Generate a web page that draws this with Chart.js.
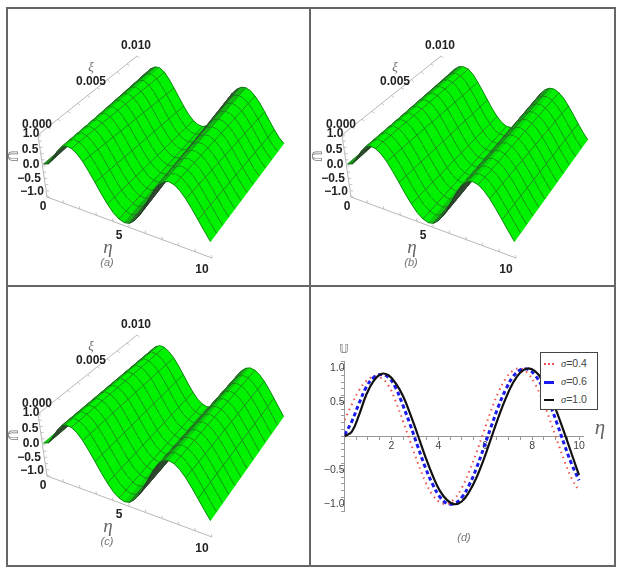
<!DOCTYPE html>
<html>
<head>
<meta charset="utf-8">
<script src="https://cdn.jsdelivr.net/npm/chart.js@4/dist/chart.umd.min.js"></script>
<style>
    html, body { margin: 0; background: #fff; }
    body { width: 622px; height: 572px; position: relative; overflow: hidden; font-family: "Liberation Sans", sans-serif; filter: blur(0.4px); }
    canvas { position: absolute; }
    .rule { position: absolute; background: #666; }
    .txt { position: absolute; transform: translate(-50%, -50%); white-space: nowrap; z-index: 3; }
    .tick3d { font: bold 12px "Liberation Sans", sans-serif; color: #222; }
    .name { font: italic 19px "Liberation Serif", serif; color: #666; }
    .small { font: italic 11px "Liberation Serif", serif; color: #666; }
    .cap { font: italic 11px "Liberation Sans", sans-serif; color: #777; }
    .dbl { font: 14px "DejaVu Sans", sans-serif; color: #777; }
    #legend { position: absolute; left: 540px; top: 352px; width: 56px; height: 56px; background: #fff; border: 1px solid #444; z-index: 4; font: 10.5px "Liberation Sans", sans-serif; color: #444; }
    #legend div { position: absolute; left: 3px; height: 14px; line-height: 14px; white-space: nowrap; }
    #legend span { display: inline-block; width: 10px; margin-right: 7px; vertical-align: middle; }
    #legend i { font-family: "Liberation Serif", serif; }
</style>
</head>
<body>
<div class="rule" style="left:6px;top:7px;width:610px;height:2px"></div>
<div class="rule" style="left:6px;top:285px;width:610px;height:2px"></div>
<div class="rule" style="left:6px;top:565px;width:610px;height:2px"></div>
<div class="rule" style="left:6px;top:7px;width:2px;height:560px"></div>
<div class="rule" style="left:309px;top:7px;width:2px;height:560px"></div>
<div class="rule" style="left:614px;top:7px;width:2px;height:560px"></div>

<canvas id="surfaceA" width="292" height="277" style="left:8px;top:8px"></canvas>
<canvas id="surfaceB" width="292" height="277" style="left:312px;top:8px"></canvas>
<canvas id="surfaceC" width="292" height="277" style="left:8px;top:287px"></canvas>
<canvas id="linesD" width="302" height="277" style="left:312px;top:288px"></canvas>

<div id="legend">
    <div style="top:3px"><span style="border-top:2px dotted #f05050"></span><i>σ</i>=0.4</div>
    <div style="top:21px"><span style="border-top:3px dashed #1a1aee"></span><i>σ</i>=0.6</div>
    <div style="top:39px"><span style="border-top:2.5px solid #111"></span><i>σ</i>=1.0</div>
</div>

<script>
const etaValues = [0, 0.3125, 0.625, 0.9375, 1.25, 1.5625, 1.875, 2.1875, 2.5, 2.8125, 3.125, 3.4375, 3.75, 4.0625, 4.375, 4.6875, 5, 5.3125, 5.625, 5.9375, 6.25, 6.5625, 6.875, 7.1875, 7.5, 7.8125, 8.125, 8.4375, 8.75, 9.0625, 9.375, 9.6875, 10];

// profile along the near edge of the surfaces
const uAtXiZero = [0, 0.07, 0.31, 0.6, 0.82, 0.92, 0.9, 0.79, 0.59, 0.32, 0.02, -0.29, -0.57, -0.8, -0.94, -1, -0.96, -0.82, -0.61, -0.34, -0.03, 0.28, 0.56, 0.79, 0.94, 1, 0.96, 0.83, 0.62, 0.35, 0.05, -0.26, -0.55];

// curves of panel (d)
const uSigma04 = [0.24, 0.47, 0.68, 0.82, 0.88, 0.86, 0.75, 0.51, 0.22, -0.09, -0.39, -0.66, -0.86, -0.97, -1, -0.92, -0.76, -0.52, -0.24, 0.07, 0.38, 0.65, 0.85, 0.97, 1, 0.93, 0.77, 0.54, 0.25, -0.06, -0.36, -0.62, -0.8];
const uSigma06 = [0.02, 0.22, 0.49, 0.73, 0.87, 0.91, 0.87, 0.71, 0.45, 0.16, -0.15, -0.45, -0.7, -0.89, -0.99, -0.99, -0.9, -0.72, -0.47, -0.17, 0.14, 0.44, 0.69, 0.88, 0.98, 0.99, 0.9, 0.73, 0.48, 0.19, -0.12, -0.41, -0.65];
const uSigma10 = [0, 0.07, 0.32, 0.62, 0.82, 0.92, 0.9, 0.78, 0.59, 0.32, 0.02, -0.29, -0.57, -0.8, -0.94, -1, -0.96, -0.82, -0.61, -0.34, -0.03, 0.28, 0.56, 0.79, 0.94, 1, 0.96, 0.83, 0.62, 0.35, 0.05, -0.26, -0.57];

// far edge (xi = 0.010) of surface (a)
const uFarEdgeA = [0.05, 0.3, 0.55, 0.74, 0.86, 0.87, 0.75, 0.51, 0.22, -0.09, -0.39, -0.66, -0.86, -0.97, -1, -0.92, -0.76, -0.52, -0.24, 0.07, 0.38, 0.65, 0.85, 0.97, 1, 0.93, 0.77, 0.54, 0.25, -0.06, -0.36, -0.62, -0.8];

const surfaceEtaTicks = [0, 1, 2, 3, 4, 5, 6, 7, 8, 9, 10];
const surfaceXiTicks = [0, 0.001, 0.002, 0.003, 0.004, 0.005, 0.006, 0.007, 0.008, 0.009, 0.01];
const surfaceUTicks = [-1, -0.8, -0.6, -0.4, -0.2, 0, 0.2, 0.4, 0.6, 0.8, 1];
const meshEvery = 2;     // one eta mesh line every two strips
const meshRows = 12;

function label(text, x, y, cls, extra) {
    let el = document.createElement("div");
    el.className = "txt " + cls;
    el.innerHTML = text;
    el.style.left = x + "px";
    el.style.top = y + "px";
    if (extra) el.style.cssText += extra;
    document.body.appendChild(el);
}

// oblique view of the box: near edge and far edge of the surface
function nearEdge(eta, u) {
    return { x: 47 + 16.5 * eta - (u + 1) * 3.5, y: 194 + 6.1 * eta - (u + 1) * 30 };
}
function farEdge(eta, u) {
    return { x: 137 + 14.5 * eta + (1 - u), y: 58.5 + 3.9 * eta + (1 - u) * 25.5 };
}
function along(a, b, f) {
    return { x: a.x + (b.x - a.x) * f, y: a.y + (b.y - a.y) * f };
}

function shade(slope) {
    if (slope <= 0) return "rgb(0,242,0)";
    let t = Math.pow(Math.min(1, slope / 0.75), 1.2);
    return `rgb(${Math.round(50 * t)},${Math.round(236 - 166 * t)},${Math.round(50 * t)})`;
}

function axisDatasets() {
    let bottomL = { x: 47, y: 197 }, bottomR = { x: 212, y: 258 };
    let topL = { x: 38, y: 135 }, topFar = { x: 137, y: 56 };
    let pts = [topFar, topL, bottomL, bottomR];
    let ticks = [];
    surfaceEtaTicks.forEach(t => {
        let p = along(bottomL, bottomR, t / 10);
        ticks.push(p, { x: p.x - 0.7, y: p.y - 3 }, { x: null, y: null });
    });
    surfaceXiTicks.forEach(t => {
        let p = along(topL, topFar, t / 0.01);
        ticks.push(p, { x: p.x + 2.5, y: p.y + 2 }, { x: null, y: null });
    });
    surfaceUTicks.forEach(t => {
        let p = along(bottomL, topL, (t + 1) / 2);
        ticks.push(p, { x: p.x + 3, y: p.y }, { x: null, y: null });
    });
    return [
        { data: pts, borderColor: "#b8b8b8", borderWidth: 1, showLine: true, pointRadius: 0 },
        { data: ticks, borderColor: "#b8b8b8", borderWidth: 0.8, showLine: true, pointRadius: 0 }
    ];
}

function surfaceDatasets(uFar) {
    let sets = axisDatasets();
    for (let i = 0; i < etaValues.length - 1; i++) {
        let a0 = nearEdge(etaValues[i], uAtXiZero[i]);
        let a1 = nearEdge(etaValues[i + 1], uAtXiZero[i + 1]);
        let b0 = farEdge(etaValues[i], uFar[i]);
        let b1 = farEdge(etaValues[i + 1], uFar[i + 1]);
        let dEta = etaValues[i + 1] - etaValues[i];
        let slope = ((uAtXiZero[i + 1] - uAtXiZero[i]) + (uFar[i + 1] - uFar[i])) / 2 / dEta;
        let col = shade(slope);
        sets.push({
            data: [a0, b0, b1, a1, a0],
            showLine: true, pointRadius: 0,
            fill: "shape", backgroundColor: col,
            borderColor: col, borderWidth: 0.8
        });

        // mesh lines follow the straight rulings of this strip
        let mesh = [];
        for (let j = 1; j < meshRows; j++) {
            mesh.push(along(a0, b0, j / meshRows), along(a1, b1, j / meshRows), { x: null, y: null });
        }
        if (i % meshEvery === 0 && i > 0) mesh.push(a0, b0, { x: null, y: null });
        sets.push({ data: mesh, showLine: true, pointRadius: 0, borderColor: "rgba(45,70,45,0.7)", borderWidth: 0.8 });

        sets.push({
            data: [a0, a1, { x: null, y: null }, b0, b1],
            showLine: true, pointRadius: 0, borderColor: "rgba(10,50,10,0.7)", borderWidth: 0.8
        });
    }
    // first dataset is painted last in Chart.js, so low eta has to go to the back
    sets.forEach((s, k) => { s.order = sets.length - k; });
    return sets;
}

function drawSurface(id, uFar, dx, dy, caption) {
    new Chart(document.getElementById(id), {
        type: "scatter",
        data: { datasets: surfaceDatasets(uFar) },
        options: {
            responsive: false,
            animation: false,
            layout: { padding: 0 },
            plugins: { legend: { display: false }, tooltip: { enabled: false } },
            scales: {
                x: { type: "linear", display: false, min: 8, max: 300 },
                y: { type: "linear", display: false, min: 8, max: 285, reverse: true }
            }
        }
    });
    label("0.010", dx + 136, dy + 45, "tick3d");
    label("0.005", dx + 91, dy + 81, "tick3d");
    label("0.000", dx + 37, dy + 124, "tick3d");
    label("1.0", dx + 31, dy + 133, "tick3d");
    label("0.5", dx + 30, dy + 149, "tick3d");
    label("0.0", dx + 31, dy + 164, "tick3d");
    label("−0.5", dx + 29, dy + 178, "tick3d");
    label("−1.0", dx + 32, dy + 191, "tick3d");
    label("0", dx + 43, dy + 206, "tick3d");
    label("5", dx + 119, dy + 235, "tick3d");
    label("10", dx + 202, dy + 269, "tick3d");
    label("ξ", dx + 91, dy + 67, "small", "font-size:13px");
    label("𝕌", dx + 13, dy + 156, "dbl", "transform:translate(-50%,-50%) rotate(90deg)");
    label("η", dx + 108, dy + 247, "name");
    label(caption, dx + 107, dy + 262, "cap");
}

drawSurface("surfaceA", uFarEdgeA, 0, 0, "(a)");
drawSurface("surfaceB", uSigma06, 304, 0, "(b)");
drawSurface("surfaceC", uSigma10, 0, 279, "(c)");

function curve(name, values, color, width, dash) {
    return {
        label: name,
        data: etaValues.map((e, i) => ({ x: e, y: values[i] })),
        showLine: true, pointRadius: 0, tension: 0.4,
        borderColor: color, borderWidth: width, borderDash: dash
    };
}

new Chart(document.getElementById("linesD"), {
    type: "scatter",
    data: {
        datasets: [
            curve("σ=1.0", uSigma10, "#111", 2.2, []),
            curve("σ=0.6", uSigma06, "#1a1aee", 3, [4, 3]),
            curve("σ=0.4", uSigma04, "#f05050", 2, [1.5, 4])
        ]
    },
    options: {
        responsive: false,
        animation: false,
        layout: { padding: { left: 32.5, right: 30.3, top: 73.7, bottom: 54 } },
        plugins: { legend: { display: false }, tooltip: { enabled: false } },
        scales: {
            x: {
                type: "linear", min: 0, max: 10.2, position: { y: 0 },
                border: { color: "#999" },
                grid: { drawOnChartArea: false, tickLength: 3, tickColor: "#999" },
                ticks: {
                    stepSize: 0.5, includeBounds: false, autoSkip: false, maxRotation: 0, padding: 0,
                    color: "#444", font: { family: "Liberation Sans", size: 10.5 },
                    callback: v => (v > 0 && v % 2 === 0) ? String(v) : ""
                }
            },
            y: {
                type: "linear", min: -1.1, max: 1.1, position: { x: 0 },
                border: { color: "#999" },
                grid: { drawOnChartArea: false, tickLength: 3, tickColor: "#999" },
                ticks: {
                    stepSize: 0.1, autoSkip: false, padding: 3,
                    color: "#444", font: { family: "Liberation Sans", size: 10.5 },
                    callback: v => {
                        let r = Math.round(v * 10);
                        return (r !== 0 && r % 5 === 0) ? (r / 10).toFixed(1).replace("-", "−") : "";
                    }
                }
            }
        }
    }
});

label("η", 600, 427, "name", "font-size:21px");
label("𝕌", 344, 349, "dbl", "font-size:12px");
label("(d)", 464, 537, "cap");
</script>
</body>
</html>
